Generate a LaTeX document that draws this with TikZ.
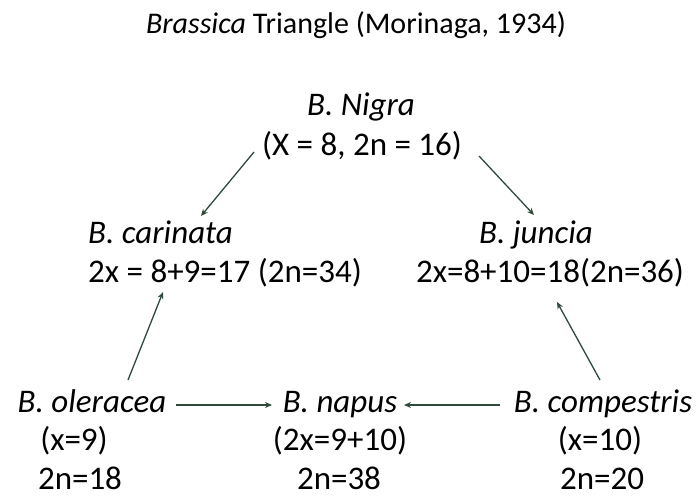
\documentclass[tikz,border=0pt]{standalone}
\usepackage{fontspec}
\setmainfont{Carlito}
\usetikzlibrary{arrows.meta}
\definecolor{arrowgreen}{HTML}{2E4A3A}
\tikzset{
  lbl/.style={inner sep=0pt, anchor=base, font=\fontsize{33}{40}\selectfont},
  ttl/.style={inner sep=0pt, anchor=base, font=\fontsize{30}{36}\selectfont},
  arr/.style={draw=arrowgreen, line width=1.3pt, -{Stealth[length=7pt,width=6pt]}}
}
\begin{document}
\begin{tikzpicture}[x=1pt,y=-1pt]
\useasboundingbox (0,0) rectangle (696,499);
% title
\node[ttl] (title) at (356,33) {\textit{Brassica} Triangle (Morinaga, 1934)};
% top
\node[lbl] (nigra) at (361,115) {\textit{B. Nigra}};
\node[lbl] (nigraN) at (362,155) {(X = 8, 2n = 16)};
% middle left
\node[lbl, anchor=base west] (carinata) at (88,243) {\textit{B. carinata}};
\node[lbl, anchor=base west] (carinataN) at (88,282) {2x = 8+9=17 (2n=34)};
% middle right
\node[lbl] (juncia) at (536,243) {\textit{B. juncia}};
\node[lbl] (junciaN) at (550,282) {2x=8+10=18(2n=36)};
% bottom left
\node[lbl] (oleracea) at (92,412) {\textit{B. oleracea}};
\node[lbl] (oleraceaA) at (74,450) {(x=9)};
\node[lbl] (oleraceaB) at (80,489) {2n=18};
% bottom middle
\node[lbl] (napus) at (340,412) {\textit{B. napus}};
\node[lbl] (napusA) at (340,450) {(2x=9+10)};
\node[lbl] (napusB) at (339,489) {2n=38};
% bottom right
\node[lbl] (compestris) at (603,412) {\textit{B. compestris}};
\node[lbl] (compestrisA) at (600,450) {(x=10)};
\node[lbl] (compestrisB) at (602,489) {2n=20};
% connector end points
\coordinate (a1s) at (254,152);
\coordinate (a1e) at (201,216);
\coordinate (a2s) at (479,156);
\coordinate (a2e) at (534,215);
\coordinate (a3s) at (128,380);
\coordinate (a3e) at (163,292);
\coordinate (a4s) at (600,380);
\coordinate (a4e) at (557,302);
\coordinate (a5s) at (176,405);
\coordinate (a5e) at (272,405);
\coordinate (a6s) at (500,405);
\coordinate (a6e) at (404,405);
% connectors
\draw[arr] (a1s) -- (a1e);
\draw[arr] (a2s) -- (a2e);
\draw[arr] (a3s) -- (a3e);
\draw[arr] (a4s) -- (a4e);
\draw[arr] (a5s) -- (a5e);
\draw[arr] (a6s) -- (a6e);
\end{tikzpicture}
\end{document}
